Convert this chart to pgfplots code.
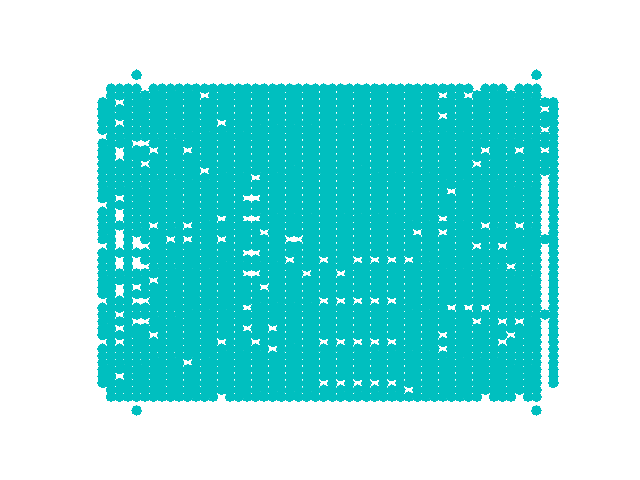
\documentclass[border=0pt]{standalone}
\usepackage{pgfplots}
\pgfplotsset{compat=1.18}
\definecolor{cc}{rgb}{0,0.75,0.75}
\begin{document}
\begin{tikzpicture}
\path[use as bounding box] (0,0) rectangle (460.8pt,345.6pt);
\begin{axis}[at={(57.6pt,38.16pt)}, anchor=south west, width=357.12pt, height=265.68pt, scale only axis, hide axis,
 xmin=-2.65, xmax=55.65, ymin=-4.45, ymax=49.45, y dir=reverse, clip=false,
 dot/.style={only marks, mark=*, mark size=3.45pt, color=cc, mark options={line width=0pt, draw=cc, fill=cc}}]
\addplot[dot] coordinates {(4,-2)(51,-2)(4,47)(51,47)};
\addplot[dot] coordinates {(1,0)(2,0)(3,0)(4,0)(6,0)(7,0)(8,0)(9,0)(10,0)(11,0)(12,0)(13,0)(14,0)(15,0)(16,0)(17,0)(18,0)(19,0)(20,0)(21,0)(22,0)(23,0)(24,0)(25,0)(26,0)(27,0)(28,0)(29,0)(30,0)(31,0)(32,0)(33,0)(34,0)(35,0)(36,0)(37,0)(38,0)(39,0)(40,0)(41,0)(42,0)(43,0)(45,0)(46,0)(47,0)(49,0)(50,0)(51,0)};
\addplot[dot] coordinates {(1,1)(2,1)(3,1)(4,1)(5,1)(6,1)(7,1)(8,1)(9,1)(10,1)(11,1)(13,1)(14,1)(15,1)(16,1)(17,1)(18,1)(19,1)(20,1)(21,1)(22,1)(23,1)(24,1)(25,1)(26,1)(27,1)(28,1)(29,1)(30,1)(31,1)(32,1)(33,1)(34,1)(35,1)(36,1)(37,1)(38,1)(39,1)(41,1)(42,1)(44,1)(45,1)(46,1)(47,1)(48,1)(49,1)(50,1)(51,1)};
\addplot[dot] coordinates {(0,2)(1,2)(3,2)(4,2)(5,2)(6,2)(7,2)(8,2)(9,2)(10,2)(11,2)(12,2)(13,2)(14,2)(15,2)(16,2)(17,2)(18,2)(19,2)(20,2)(21,2)(22,2)(23,2)(24,2)(25,2)(26,2)(27,2)(28,2)(29,2)(30,2)(31,2)(32,2)(33,2)(34,2)(35,2)(36,2)(37,2)(38,2)(39,2)(40,2)(41,2)(42,2)(43,2)(44,2)(45,2)(46,2)(47,2)(48,2)(49,2)(50,2)(51,2)(52,2)(53,2)};
\addplot[dot] coordinates {(0,3)(1,3)(2,3)(3,3)(4,3)(5,3)(6,3)(7,3)(8,3)(9,3)(10,3)(11,3)(12,3)(13,3)(14,3)(15,3)(16,3)(17,3)(18,3)(19,3)(20,3)(21,3)(22,3)(23,3)(24,3)(25,3)(26,3)(27,3)(28,3)(29,3)(30,3)(31,3)(32,3)(33,3)(34,3)(35,3)(36,3)(37,3)(38,3)(39,3)(40,3)(41,3)(42,3)(43,3)(44,3)(45,3)(46,3)(47,3)(48,3)(49,3)(50,3)(51,3)(53,3)};
\addplot[dot] coordinates {(0,4)(1,4)(2,4)(3,4)(4,4)(5,4)(6,4)(7,4)(8,4)(9,4)(10,4)(11,4)(12,4)(13,4)(14,4)(15,4)(16,4)(17,4)(18,4)(19,4)(20,4)(21,4)(22,4)(23,4)(24,4)(25,4)(26,4)(27,4)(28,4)(29,4)(30,4)(31,4)(32,4)(33,4)(34,4)(35,4)(36,4)(37,4)(38,4)(39,4)(41,4)(42,4)(43,4)(44,4)(45,4)(46,4)(47,4)(48,4)(49,4)(50,4)(51,4)(52,4)(53,4)};
\addplot[dot] coordinates {(0,5)(1,5)(3,5)(4,5)(5,5)(6,5)(7,5)(8,5)(9,5)(10,5)(11,5)(12,5)(13,5)(15,5)(16,5)(17,5)(18,5)(19,5)(20,5)(21,5)(22,5)(23,5)(24,5)(25,5)(26,5)(27,5)(28,5)(29,5)(30,5)(31,5)(32,5)(33,5)(34,5)(35,5)(36,5)(37,5)(38,5)(39,5)(40,5)(41,5)(42,5)(43,5)(44,5)(45,5)(46,5)(47,5)(48,5)(49,5)(50,5)(51,5)(52,5)(53,5)};
\addplot[dot] coordinates {(0,6)(1,6)(2,6)(3,6)(4,6)(5,6)(6,6)(7,6)(8,6)(9,6)(10,6)(11,6)(12,6)(13,6)(14,6)(15,6)(16,6)(17,6)(18,6)(19,6)(20,6)(21,6)(22,6)(23,6)(24,6)(25,6)(26,6)(27,6)(28,6)(29,6)(30,6)(31,6)(32,6)(33,6)(34,6)(35,6)(36,6)(37,6)(38,6)(39,6)(40,6)(41,6)(42,6)(43,6)(44,6)(45,6)(46,6)(47,6)(48,6)(49,6)(50,6)(51,6)(53,6)};
\addplot[dot] coordinates {(1,7)(2,7)(3,7)(4,7)(5,7)(6,7)(7,7)(8,7)(9,7)(10,7)(11,7)(12,7)(13,7)(14,7)(15,7)(16,7)(17,7)(18,7)(19,7)(20,7)(21,7)(22,7)(23,7)(24,7)(25,7)(26,7)(27,7)(28,7)(29,7)(30,7)(31,7)(32,7)(33,7)(34,7)(35,7)(36,7)(37,7)(38,7)(39,7)(40,7)(41,7)(42,7)(43,7)(44,7)(45,7)(46,7)(47,7)(48,7)(49,7)(50,7)(51,7)(52,7)(53,7)};
\addplot[dot] coordinates {(0,8)(1,8)(2,8)(3,8)(6,8)(7,8)(8,8)(9,8)(10,8)(11,8)(12,8)(13,8)(14,8)(15,8)(16,8)(17,8)(18,8)(19,8)(20,8)(21,8)(22,8)(23,8)(24,8)(25,8)(26,8)(27,8)(28,8)(29,8)(30,8)(31,8)(32,8)(33,8)(34,8)(35,8)(36,8)(37,8)(38,8)(39,8)(40,8)(41,8)(42,8)(43,8)(44,8)(45,8)(46,8)(47,8)(48,8)(49,8)(50,8)(51,8)(52,8)(53,8)};
\addplot[dot] coordinates {(0,9)(1,9)(3,9)(4,9)(5,9)(7,9)(8,9)(9,9)(11,9)(12,9)(13,9)(14,9)(15,9)(16,9)(17,9)(18,9)(19,9)(20,9)(21,9)(22,9)(23,9)(24,9)(25,9)(26,9)(27,9)(28,9)(29,9)(30,9)(31,9)(32,9)(33,9)(34,9)(35,9)(36,9)(37,9)(38,9)(39,9)(40,9)(41,9)(42,9)(43,9)(44,9)(46,9)(47,9)(48,9)(50,9)(51,9)(53,9)};
\addplot[dot] coordinates {(0,10)(1,10)(3,10)(4,10)(5,10)(6,10)(7,10)(8,10)(9,10)(10,10)(11,10)(12,10)(13,10)(14,10)(15,10)(16,10)(17,10)(18,10)(19,10)(20,10)(21,10)(22,10)(23,10)(24,10)(25,10)(26,10)(27,10)(28,10)(29,10)(30,10)(31,10)(32,10)(33,10)(34,10)(35,10)(36,10)(37,10)(38,10)(39,10)(40,10)(41,10)(42,10)(43,10)(44,10)(45,10)(46,10)(47,10)(48,10)(49,10)(50,10)(51,10)(52,10)(53,10)};
\addplot[dot] coordinates {(0,11)(1,11)(2,11)(3,11)(4,11)(6,11)(7,11)(8,11)(9,11)(10,11)(11,11)(12,11)(13,11)(14,11)(15,11)(16,11)(17,11)(18,11)(19,11)(20,11)(21,11)(22,11)(23,11)(24,11)(25,11)(26,11)(27,11)(28,11)(29,11)(30,11)(31,11)(32,11)(33,11)(34,11)(35,11)(36,11)(37,11)(38,11)(39,11)(40,11)(41,11)(42,11)(43,11)(45,11)(46,11)(47,11)(48,11)(49,11)(50,11)(51,11)(52,11)(53,11)};
\addplot[dot] coordinates {(0,12)(1,12)(2,12)(3,12)(4,12)(5,12)(6,12)(7,12)(8,12)(9,12)(10,12)(11,12)(13,12)(14,12)(15,12)(16,12)(17,12)(18,12)(19,12)(20,12)(21,12)(22,12)(23,12)(24,12)(25,12)(26,12)(27,12)(28,12)(29,12)(30,12)(31,12)(32,12)(33,12)(34,12)(35,12)(36,12)(37,12)(38,12)(39,12)(40,12)(41,12)(42,12)(43,12)(44,12)(45,12)(46,12)(47,12)(48,12)(49,12)(50,12)(51,12)(52,12)(53,12)};
\addplot[dot] coordinates {(0,13)(1,13)(2,13)(3,13)(4,13)(5,13)(6,13)(7,13)(8,13)(9,13)(10,13)(11,13)(12,13)(13,13)(14,13)(15,13)(16,13)(17,13)(19,13)(20,13)(21,13)(22,13)(23,13)(24,13)(25,13)(26,13)(27,13)(28,13)(29,13)(30,13)(31,13)(32,13)(33,13)(34,13)(35,13)(36,13)(37,13)(38,13)(39,13)(40,13)(41,13)(42,13)(43,13)(44,13)(45,13)(46,13)(47,13)(48,13)(49,13)(50,13)(51,13)(53,13)};
\addplot[dot] coordinates {(0,14)(1,14)(2,14)(3,14)(4,14)(5,14)(6,14)(7,14)(8,14)(9,14)(10,14)(11,14)(12,14)(13,14)(14,14)(15,14)(16,14)(17,14)(18,14)(19,14)(20,14)(21,14)(22,14)(23,14)(24,14)(25,14)(26,14)(27,14)(28,14)(29,14)(30,14)(31,14)(32,14)(33,14)(34,14)(35,14)(36,14)(37,14)(38,14)(39,14)(40,14)(41,14)(42,14)(43,14)(44,14)(45,14)(46,14)(47,14)(48,14)(49,14)(50,14)(51,14)(53,14)};
\addplot[dot] coordinates {(0,15)(1,15)(2,15)(3,15)(4,15)(5,15)(6,15)(7,15)(8,15)(9,15)(10,15)(11,15)(12,15)(13,15)(14,15)(15,15)(16,15)(17,15)(18,15)(19,15)(20,15)(21,15)(22,15)(23,15)(24,15)(25,15)(26,15)(27,15)(28,15)(29,15)(30,15)(31,15)(32,15)(33,15)(34,15)(35,15)(36,15)(37,15)(38,15)(39,15)(40,15)(42,15)(43,15)(44,15)(45,15)(46,15)(47,15)(48,15)(49,15)(50,15)(51,15)(53,15)};
\addplot[dot] coordinates {(0,16)(1,16)(3,16)(4,16)(5,16)(6,16)(7,16)(8,16)(9,16)(10,16)(11,16)(12,16)(13,16)(14,16)(15,16)(16,16)(19,16)(20,16)(21,16)(22,16)(23,16)(24,16)(25,16)(26,16)(27,16)(28,16)(29,16)(30,16)(31,16)(32,16)(33,16)(34,16)(35,16)(36,16)(37,16)(38,16)(39,16)(40,16)(41,16)(42,16)(43,16)(44,16)(45,16)(46,16)(47,16)(48,16)(49,16)(50,16)(51,16)(53,16)};
\addplot[dot] coordinates {(1,17)(2,17)(3,17)(4,17)(5,17)(6,17)(7,17)(8,17)(9,17)(10,17)(11,17)(12,17)(13,17)(14,17)(15,17)(16,17)(17,17)(18,17)(19,17)(20,17)(21,17)(22,17)(23,17)(24,17)(25,17)(26,17)(27,17)(28,17)(29,17)(30,17)(31,17)(32,17)(33,17)(34,17)(35,17)(36,17)(37,17)(38,17)(39,17)(40,17)(41,17)(42,17)(43,17)(44,17)(45,17)(46,17)(47,17)(48,17)(49,17)(50,17)(51,17)(53,17)};
\addplot[dot] coordinates {(0,18)(1,18)(3,18)(4,18)(5,18)(6,18)(7,18)(8,18)(9,18)(10,18)(11,18)(12,18)(13,18)(14,18)(15,18)(16,18)(17,18)(18,18)(19,18)(20,18)(21,18)(22,18)(23,18)(24,18)(25,18)(26,18)(27,18)(28,18)(29,18)(30,18)(31,18)(32,18)(33,18)(34,18)(35,18)(36,18)(37,18)(38,18)(39,18)(40,18)(41,18)(42,18)(43,18)(44,18)(45,18)(46,18)(47,18)(48,18)(49,18)(50,18)(51,18)(53,18)};
\addplot[dot] coordinates {(0,19)(1,19)(3,19)(4,19)(5,19)(6,19)(7,19)(8,19)(9,19)(10,19)(11,19)(12,19)(13,19)(15,19)(16,19)(19,19)(20,19)(21,19)(22,19)(23,19)(24,19)(25,19)(26,19)(27,19)(28,19)(29,19)(30,19)(31,19)(32,19)(33,19)(34,19)(35,19)(36,19)(37,19)(38,19)(39,19)(41,19)(42,19)(43,19)(44,19)(45,19)(46,19)(47,19)(48,19)(49,19)(50,19)(51,19)(53,19)};
\addplot[dot] coordinates {(0,20)(1,20)(2,20)(3,20)(4,20)(5,20)(7,20)(8,20)(9,20)(11,20)(12,20)(13,20)(14,20)(15,20)(16,20)(17,20)(18,20)(19,20)(20,20)(21,20)(22,20)(23,20)(24,20)(25,20)(26,20)(27,20)(28,20)(29,20)(30,20)(31,20)(32,20)(33,20)(34,20)(35,20)(36,20)(37,20)(38,20)(39,20)(40,20)(41,20)(42,20)(43,20)(44,20)(46,20)(47,20)(48,20)(50,20)(51,20)(53,20)};
\addplot[dot] coordinates {(0,21)(1,21)(3,21)(4,21)(5,21)(6,21)(7,21)(8,21)(9,21)(10,21)(11,21)(12,21)(13,21)(14,21)(15,21)(16,21)(17,21)(18,21)(20,21)(21,21)(22,21)(23,21)(24,21)(25,21)(26,21)(27,21)(28,21)(29,21)(30,21)(31,21)(32,21)(33,21)(34,21)(35,21)(36,21)(38,21)(39,21)(41,21)(42,21)(43,21)(44,21)(45,21)(46,21)(47,21)(48,21)(49,21)(50,21)(51,21)(53,21)};
\addplot[dot] coordinates {(0,22)(1,22)(3,22)(5,22)(6,22)(7,22)(9,22)(11,22)(12,22)(13,22)(15,22)(16,22)(17,22)(18,22)(19,22)(20,22)(21,22)(24,22)(25,22)(26,22)(27,22)(28,22)(29,22)(30,22)(31,22)(32,22)(33,22)(34,22)(35,22)(36,22)(37,22)(38,22)(39,22)(40,22)(41,22)(42,22)(43,22)(44,22)(45,22)(46,22)(47,22)(48,22)(49,22)(50,22)(51,22)(52,22)(53,22)};
\addplot[dot] coordinates {(1,23)(3,23)(6,23)(7,23)(8,23)(9,23)(10,23)(11,23)(12,23)(13,23)(14,23)(15,23)(16,23)(17,23)(18,23)(19,23)(20,23)(21,23)(22,23)(23,23)(24,23)(25,23)(26,23)(27,23)(28,23)(29,23)(30,23)(31,23)(32,23)(33,23)(34,23)(35,23)(36,23)(37,23)(38,23)(39,23)(40,23)(41,23)(42,23)(43,23)(45,23)(46,23)(48,23)(49,23)(50,23)(51,23)(53,23)};
\addplot[dot] coordinates {(0,24)(1,24)(2,24)(3,24)(4,24)(5,24)(6,24)(7,24)(8,24)(9,24)(10,24)(11,24)(12,24)(13,24)(14,24)(15,24)(16,24)(19,24)(20,24)(21,24)(22,24)(23,24)(24,24)(25,24)(26,24)(27,24)(28,24)(29,24)(30,24)(31,24)(32,24)(33,24)(34,24)(35,24)(36,24)(37,24)(38,24)(39,24)(40,24)(41,24)(42,24)(43,24)(44,24)(45,24)(46,24)(47,24)(48,24)(49,24)(50,24)(51,24)(53,24)};
\addplot[dot] coordinates {(0,25)(1,25)(3,25)(5,25)(6,25)(7,25)(8,25)(9,25)(10,25)(11,25)(12,25)(13,25)(14,25)(15,25)(16,25)(17,25)(18,25)(19,25)(20,25)(21,25)(23,25)(24,25)(25,25)(27,25)(28,25)(29,25)(31,25)(33,25)(35,25)(37,25)(38,25)(39,25)(40,25)(41,25)(42,25)(43,25)(44,25)(45,25)(46,25)(47,25)(48,25)(49,25)(50,25)(51,25)(53,25)};
\addplot[dot] coordinates {(0,26)(1,26)(3,26)(6,26)(7,26)(8,26)(9,26)(10,26)(11,26)(12,26)(13,26)(14,26)(15,26)(16,26)(17,26)(18,26)(19,26)(20,26)(21,26)(22,26)(23,26)(24,26)(25,26)(26,26)(27,26)(28,26)(29,26)(30,26)(31,26)(32,26)(33,26)(34,26)(35,26)(36,26)(37,26)(38,26)(39,26)(40,26)(41,26)(42,26)(43,26)(44,26)(45,26)(46,26)(47,26)(49,26)(50,26)(51,26)(53,26)};
\addplot[dot] coordinates {(0,27)(1,27)(2,27)(3,27)(4,27)(5,27)(6,27)(7,27)(8,27)(9,27)(10,27)(11,27)(12,27)(13,27)(14,27)(15,27)(16,27)(19,27)(20,27)(21,27)(22,27)(23,27)(25,27)(26,27)(27,27)(29,27)(30,27)(31,27)(32,27)(33,27)(34,27)(35,27)(36,27)(37,27)(38,27)(39,27)(40,27)(41,27)(42,27)(43,27)(44,27)(45,27)(46,27)(47,27)(48,27)(49,27)(50,27)(51,27)(53,27)};
\addplot[dot] coordinates {(0,28)(1,28)(2,28)(3,28)(4,28)(5,28)(7,28)(8,28)(9,28)(10,28)(11,28)(12,28)(13,28)(14,28)(15,28)(16,28)(17,28)(18,28)(19,28)(20,28)(21,28)(22,28)(23,28)(24,28)(25,28)(26,28)(27,28)(28,28)(29,28)(30,28)(31,28)(32,28)(33,28)(34,28)(35,28)(36,28)(37,28)(38,28)(39,28)(40,28)(41,28)(42,28)(43,28)(44,28)(45,28)(46,28)(47,28)(48,28)(49,28)(50,28)(51,28)(53,28)};
\addplot[dot] coordinates {(0,29)(1,29)(3,29)(5,29)(6,29)(7,29)(8,29)(9,29)(10,29)(11,29)(12,29)(13,29)(14,29)(15,29)(16,29)(17,29)(18,29)(20,29)(21,29)(22,29)(23,29)(24,29)(25,29)(26,29)(27,29)(28,29)(29,29)(30,29)(31,29)(32,29)(33,29)(34,29)(35,29)(36,29)(37,29)(38,29)(39,29)(40,29)(41,29)(42,29)(43,29)(44,29)(45,29)(46,29)(47,29)(48,29)(49,29)(50,29)(51,29)(53,29)};
\addplot[dot] coordinates {(0,30)(1,30)(3,30)(4,30)(5,30)(6,30)(7,30)(8,30)(9,30)(10,30)(11,30)(12,30)(13,30)(14,30)(15,30)(16,30)(17,30)(18,30)(19,30)(20,30)(21,30)(22,30)(23,30)(24,30)(25,30)(26,30)(27,30)(28,30)(29,30)(30,30)(31,30)(32,30)(33,30)(34,30)(35,30)(36,30)(37,30)(38,30)(39,30)(40,30)(41,30)(42,30)(43,30)(44,30)(45,30)(46,30)(47,30)(48,30)(49,30)(50,30)(51,30)(53,30)};
\addplot[dot] coordinates {(1,31)(2,31)(3,31)(6,31)(7,31)(8,31)(9,31)(10,31)(11,31)(12,31)(13,31)(14,31)(15,31)(16,31)(17,31)(18,31)(19,31)(20,31)(21,31)(22,31)(23,31)(24,31)(25,31)(27,31)(29,31)(31,31)(33,31)(35,31)(36,31)(37,31)(38,31)(39,31)(40,31)(41,31)(42,31)(43,31)(44,31)(45,31)(46,31)(47,31)(48,31)(49,31)(50,31)(51,31)(53,31)};
\addplot[dot] coordinates {(0,32)(1,32)(2,32)(3,32)(4,32)(5,32)(6,32)(7,32)(8,32)(9,32)(10,32)(11,32)(12,32)(13,32)(14,32)(15,32)(16,32)(18,32)(19,32)(20,32)(21,32)(22,32)(23,32)(24,32)(25,32)(26,32)(27,32)(28,32)(29,32)(30,32)(31,32)(32,32)(33,32)(34,32)(35,32)(36,32)(37,32)(38,32)(39,32)(40,32)(42,32)(44,32)(46,32)(47,32)(48,32)(49,32)(50,32)(51,32)(53,32)};
\addplot[dot] coordinates {(0,33)(1,33)(3,33)(4,33)(5,33)(6,33)(7,33)(8,33)(9,33)(10,33)(11,33)(12,33)(13,33)(14,33)(15,33)(16,33)(17,33)(18,33)(19,33)(20,33)(21,33)(22,33)(23,33)(24,33)(25,33)(26,33)(27,33)(28,33)(29,33)(30,33)(31,33)(32,33)(33,33)(34,33)(35,33)(36,33)(37,33)(38,33)(39,33)(40,33)(41,33)(42,33)(43,33)(44,33)(45,33)(46,33)(47,33)(48,33)(49,33)(50,33)(51,33)(52,33)(53,33)};
\addplot[dot] coordinates {(0,34)(1,34)(2,34)(3,34)(6,34)(7,34)(8,34)(9,34)(10,34)(11,34)(12,34)(13,34)(14,34)(15,34)(16,34)(17,34)(18,34)(19,34)(20,34)(21,34)(22,34)(23,34)(24,34)(25,34)(26,34)(27,34)(28,34)(29,34)(30,34)(31,34)(32,34)(33,34)(34,34)(35,34)(36,34)(37,34)(38,34)(39,34)(40,34)(41,34)(42,34)(43,34)(45,34)(46,34)(48,34)(50,34)(51,34)(53,34)};
\addplot[dot] coordinates {(0,35)(1,35)(3,35)(4,35)(5,35)(6,35)(7,35)(8,35)(9,35)(10,35)(11,35)(12,35)(13,35)(14,35)(15,35)(16,35)(18,35)(19,35)(21,35)(22,35)(23,35)(24,35)(25,35)(26,35)(27,35)(28,35)(29,35)(30,35)(31,35)(32,35)(33,35)(34,35)(35,35)(36,35)(37,35)(38,35)(39,35)(40,35)(41,35)(42,35)(43,35)(44,35)(45,35)(46,35)(47,35)(48,35)(49,35)(50,35)(51,35)(53,35)};
\addplot[dot] coordinates {(0,36)(1,36)(2,36)(3,36)(4,36)(5,36)(7,36)(8,36)(9,36)(10,36)(11,36)(12,36)(13,36)(14,36)(15,36)(16,36)(17,36)(18,36)(19,36)(20,36)(21,36)(22,36)(23,36)(24,36)(25,36)(26,36)(27,36)(28,36)(29,36)(30,36)(31,36)(32,36)(33,36)(34,36)(35,36)(36,36)(37,36)(38,36)(39,36)(41,36)(42,36)(43,36)(44,36)(45,36)(46,36)(47,36)(49,36)(50,36)(51,36)(53,36)};
\addplot[dot] coordinates {(1,37)(3,37)(4,37)(5,37)(6,37)(7,37)(8,37)(9,37)(10,37)(11,37)(12,37)(13,37)(15,37)(16,37)(17,37)(19,37)(20,37)(21,37)(22,37)(23,37)(24,37)(25,37)(27,37)(29,37)(31,37)(33,37)(35,37)(36,37)(37,37)(38,37)(39,37)(40,37)(41,37)(42,37)(43,37)(44,37)(45,37)(46,37)(48,37)(49,37)(50,37)(51,37)(53,37)};
\addplot[dot] coordinates {(0,38)(1,38)(2,38)(3,38)(4,38)(5,38)(6,38)(7,38)(8,38)(9,38)(10,38)(11,38)(12,38)(13,38)(14,38)(15,38)(16,38)(17,38)(18,38)(19,38)(21,38)(22,38)(23,38)(24,38)(25,38)(26,38)(27,38)(28,38)(29,38)(30,38)(31,38)(32,38)(33,38)(34,38)(35,38)(36,38)(37,38)(38,38)(39,38)(41,38)(42,38)(43,38)(44,38)(45,38)(46,38)(47,38)(48,38)(49,38)(50,38)(51,38)(53,38)};
\addplot[dot] coordinates {(0,39)(1,39)(2,39)(3,39)(4,39)(5,39)(6,39)(7,39)(8,39)(9,39)(10,39)(11,39)(12,39)(13,39)(14,39)(15,39)(16,39)(17,39)(18,39)(19,39)(20,39)(21,39)(22,39)(23,39)(24,39)(25,39)(26,39)(27,39)(28,39)(29,39)(30,39)(31,39)(32,39)(33,39)(34,39)(35,39)(36,39)(37,39)(38,39)(39,39)(40,39)(41,39)(42,39)(43,39)(44,39)(45,39)(46,39)(47,39)(48,39)(49,39)(50,39)(51,39)(53,39)};
\addplot[dot] coordinates {(0,40)(1,40)(2,40)(3,40)(4,40)(5,40)(6,40)(7,40)(8,40)(9,40)(11,40)(12,40)(13,40)(14,40)(15,40)(16,40)(17,40)(18,40)(19,40)(20,40)(21,40)(22,40)(23,40)(24,40)(25,40)(26,40)(27,40)(28,40)(29,40)(30,40)(31,40)(32,40)(33,40)(34,40)(35,40)(36,40)(37,40)(38,40)(39,40)(40,40)(41,40)(42,40)(43,40)(44,40)(45,40)(46,40)(47,40)(48,40)(49,40)(50,40)(51,40)(53,40)};
\addplot[dot] coordinates {(0,41)(1,41)(2,41)(3,41)(4,41)(5,41)(6,41)(7,41)(8,41)(9,41)(10,41)(11,41)(12,41)(13,41)(14,41)(15,41)(16,41)(17,41)(18,41)(19,41)(20,41)(21,41)(22,41)(23,41)(24,41)(25,41)(26,41)(27,41)(28,41)(29,41)(30,41)(31,41)(32,41)(33,41)(34,41)(35,41)(36,41)(37,41)(38,41)(39,41)(40,41)(41,41)(42,41)(43,41)(44,41)(45,41)(46,41)(47,41)(48,41)(49,41)(50,41)(51,41)(53,41)};
\addplot[dot] coordinates {(0,42)(1,42)(3,42)(4,42)(5,42)(6,42)(7,42)(8,42)(9,42)(10,42)(11,42)(12,42)(13,42)(14,42)(15,42)(16,42)(17,42)(18,42)(19,42)(20,42)(21,42)(22,42)(23,42)(24,42)(25,42)(26,42)(27,42)(28,42)(29,42)(30,42)(31,42)(32,42)(33,42)(34,42)(35,42)(36,42)(37,42)(38,42)(39,42)(40,42)(41,42)(42,42)(43,42)(44,42)(45,42)(46,42)(47,42)(48,42)(49,42)(50,42)(51,42)(53,42)};
\addplot[dot] coordinates {(0,43)(1,43)(2,43)(3,43)(4,43)(5,43)(6,43)(7,43)(8,43)(9,43)(10,43)(11,43)(12,43)(13,43)(14,43)(15,43)(16,43)(17,43)(18,43)(19,43)(20,43)(21,43)(22,43)(23,43)(24,43)(25,43)(27,43)(29,43)(31,43)(33,43)(35,43)(36,43)(37,43)(38,43)(39,43)(40,43)(41,43)(42,43)(43,43)(44,43)(45,43)(46,43)(47,43)(48,43)(49,43)(50,43)(51,43)(53,43)};
\addplot[dot] coordinates {(1,44)(2,44)(3,44)(4,44)(5,44)(6,44)(7,44)(8,44)(9,44)(10,44)(11,44)(12,44)(13,44)(14,44)(15,44)(16,44)(17,44)(18,44)(19,44)(20,44)(21,44)(22,44)(23,44)(24,44)(25,44)(26,44)(27,44)(28,44)(29,44)(30,44)(31,44)(32,44)(33,44)(34,44)(35,44)(37,44)(38,44)(39,44)(40,44)(41,44)(42,44)(43,44)(44,44)(45,44)(46,44)(47,44)(48,44)(49,44)(50,44)(51,44)};
\addplot[dot] coordinates {(1,45)(2,45)(3,45)(4,45)(5,45)(6,45)(7,45)(8,45)(9,45)(10,45)(11,45)(12,45)(13,45)(15,45)(16,45)(17,45)(18,45)(19,45)(20,45)(21,45)(22,45)(23,45)(24,45)(25,45)(26,45)(27,45)(28,45)(29,45)(30,45)(31,45)(32,45)(33,45)(34,45)(35,45)(36,45)(37,45)(38,45)(39,45)(40,45)(41,45)(42,45)(43,45)(44,45)(46,45)(47,45)(48,45)(50,45)(51,45)};
\end{axis}
\end{tikzpicture}
\end{document}
